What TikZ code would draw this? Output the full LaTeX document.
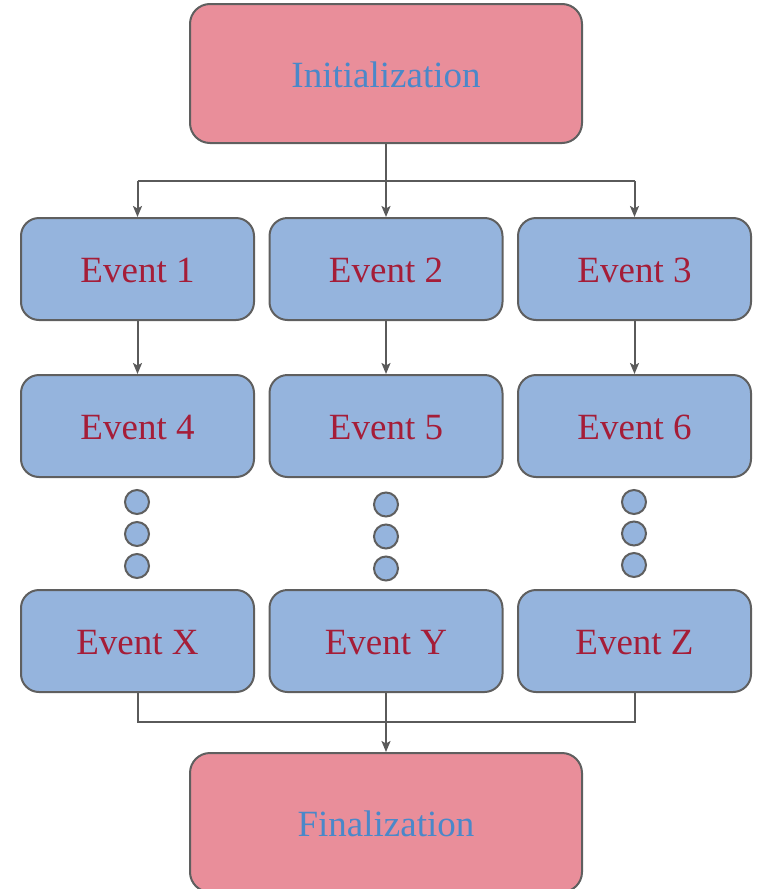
\documentclass[tikz,border=0pt]{standalone}
\usepackage{fontspec}
\setmainfont{Liberation Serif}
\usetikzlibrary{arrows.meta}
\definecolor{pinkfill}{HTML}{E98E9A}
\definecolor{bluefill}{HTML}{95B4DD}
\definecolor{bordergray}{HTML}{5F5F5F}
\definecolor{linegray}{HTML}{5A5A5A}
\definecolor{bluetext}{HTML}{4A88C9}
\definecolor{redtext}{HTML}{A51D38}
\tikzset{
  endbox/.style={draw=bordergray, line width=2pt, fill=pinkfill, rounded corners=20pt,
    minimum width=392pt, minimum height=139pt, inner sep=0pt,
    text height=27pt, text depth=0pt,
    text=bluetext, font=\fontsize{37}{40}\selectfont},
  eventbox/.style={draw=bordergray, line width=2pt, fill=bluefill, rounded corners=18pt,
    minimum width=233pt, minimum height=102pt, inner sep=0pt,
    text height=27pt, text depth=0pt,
    text=redtext, font=\fontsize{37}{40}\selectfont},
  dotnode/.style={circle, draw=bordergray, line width=2pt, fill=bluefill,
    minimum size=24pt, inner sep=0pt},
  conn/.style={draw=linegray, line width=2pt},
  arr/.style={conn, -{Stealth[length=11pt,width=9pt,inset=2.5pt]}}
}
\begin{document}
\begin{tikzpicture}[x=1pt,y=-1pt]
\useasboundingbox (0,0) rectangle (756,889);
\node[endbox] (init) at (386,73.5) {Initialization};
\node[eventbox] (e1) at (137.5,269) {Event 1};
\node[eventbox] (e2) at (386,269) {Event 2};
\node[eventbox] (e3) at (634.5,269) {Event 3};
\node[eventbox] (e4) at (137.5,426) {Event 4};
\node[eventbox] (e5) at (386,426) {Event 5};
\node[eventbox] (e6) at (634.5,426) {Event 6};
\node[eventbox] (ex) at (137.5,641) {Event X};
\node[eventbox] (ey) at (386,641) {Event Y};
\node[eventbox] (ez) at (634.5,641) {Event Z};
\node[endbox] (fin) at (386,822.5) {Finalization};
% dots
\node[dotnode] (d11) at (137,502) {};
\node[dotnode] (d12) at (137,534) {};
\node[dotnode] (d13) at (137,566) {};
\node[dotnode] (d21) at (386,504.5) {};
\node[dotnode] (d22) at (386,536.5) {};
\node[dotnode] (d23) at (386,568.5) {};
\node[dotnode] (d31) at (634,502) {};
\node[dotnode] (d32) at (634,533.5) {};
\node[dotnode] (d33) at (634,565) {};
% top connectors
\coordinate (tbar) at (386,181);
\draw[conn] (e1.north |- tbar) -- (e3.north |- tbar);
\draw[arr] (init.south) -- (e2.north);
\draw[arr] (e1.north |- tbar) -- (e1.north);
\draw[arr] (e3.north |- tbar) -- (e3.north);
% middle connectors
\draw[arr] (e1.south) -- (e4.north);
\draw[arr] (e2.south) -- (e5.north);
\draw[arr] (e3.south) -- (e6.north);
% bottom connectors
\coordinate (bbar) at (386,722);
\draw[conn] (ex.south) -- (ex.south |- bbar) -- (ez.south |- bbar) -- (ez.south);
\draw[arr] (ey.south) -- (fin.north);
\end{tikzpicture}
\end{document}
